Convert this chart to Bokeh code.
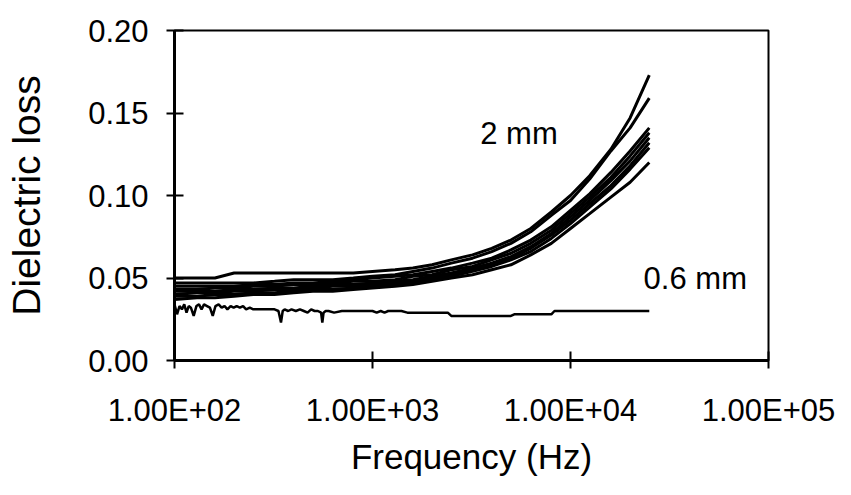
from bokeh.plotting import figure
from bokeh.models import Range1d, FixedTicker, Label, NumeralTickFormatter
from bokeh.embed import file_html
from bokeh.resources import INLINE

# ---- data ----
freq = [100, 130, 160, 200, 250, 320, 400, 500, 630, 800, 1000, 1300, 1600,
        2000, 2500, 3200, 4000, 5000, 6300, 8000, 10000, 12500, 16000, 20000, 25000]

loss_2mm_a = [0.050, 0.050, 0.050, 0.053, 0.053, 0.053, 0.053, 0.053, 0.053, 0.053, 0.054, 0.055, 0.056,
              0.058, 0.061, 0.064, 0.068, 0.073, 0.080, 0.090, 0.100, 0.112, 0.128, 0.147, 0.173]
loss_2mm_b = [0.047, 0.047, 0.047, 0.047, 0.047, 0.048, 0.049, 0.049, 0.049, 0.050, 0.051, 0.052, 0.054,
              0.056, 0.059, 0.062, 0.066, 0.071, 0.078, 0.088, 0.097, 0.110, 0.127, 0.141, 0.159]
loss_2mm_c = [0.045, 0.045, 0.045, 0.045, 0.046, 0.046, 0.047, 0.047, 0.048, 0.049, 0.050, 0.051, 0.052,
              0.054, 0.056, 0.059, 0.062, 0.067, 0.073, 0.081, 0.091, 0.101, 0.114, 0.127, 0.141]
loss_2mm_d = [0.043, 0.043, 0.044, 0.044, 0.045, 0.045, 0.046, 0.046, 0.047, 0.048, 0.048, 0.049, 0.051,
              0.052, 0.055, 0.057, 0.061, 0.065, 0.071, 0.079, 0.089, 0.099, 0.111, 0.124, 0.138]
loss_2mm_e = [0.042, 0.042, 0.042, 0.043, 0.043, 0.044, 0.044, 0.045, 0.046, 0.046, 0.047, 0.048, 0.049,
              0.051, 0.053, 0.056, 0.059, 0.063, 0.069, 0.077, 0.087, 0.097, 0.109, 0.121, 0.135]
loss_2mm_f = [0.040, 0.041, 0.041, 0.042, 0.042, 0.043, 0.043, 0.044, 0.045, 0.045, 0.046, 0.047, 0.048,
              0.050, 0.052, 0.055, 0.058, 0.062, 0.068, 0.076, 0.085, 0.095, 0.106, 0.118, 0.132]
loss_2mm_g = [0.039, 0.039, 0.040, 0.040, 0.041, 0.041, 0.042, 0.043, 0.043, 0.044, 0.045, 0.046, 0.047,
              0.049, 0.051, 0.054, 0.057, 0.061, 0.066, 0.074, 0.083, 0.093, 0.104, 0.116, 0.129]
loss_2mm_h = [0.037, 0.038, 0.038, 0.039, 0.040, 0.040, 0.041, 0.042, 0.042, 0.043, 0.044, 0.045, 0.046,
              0.048, 0.050, 0.052, 0.055, 0.058, 0.064, 0.071, 0.080, 0.089, 0.099, 0.108, 0.120]

freq_06 = [100, 103, 106, 109, 112, 115, 118, 121, 125, 129,
           133, 137, 141, 146, 151, 156, 161, 167, 173, 179,
           185, 192, 199, 206, 214, 222, 230, 240, 250, 262,
           275, 290, 305, 320, 335, 345, 352, 360, 375, 390,
           410, 430, 450, 470, 490, 510, 530, 550, 558, 566,
           580, 600, 640, 700, 800, 900, 1000, 1050, 1100, 1150,
           1200, 1400, 1500, 2000, 2400, 2500, 3000, 4000, 5000, 5200,
           8000, 8300, 12000, 25000]
loss_06 = [0.034, 0.028, 0.033, 0.031, 0.034, 0.029, 0.033, 0.032, 0.027, 0.033,
           0.034, 0.031, 0.034, 0.033, 0.032, 0.027, 0.033, 0.034, 0.032, 0.033,
           0.031, 0.033, 0.032, 0.033, 0.032, 0.033, 0.031, 0.032, 0.031, 0.031,
           0.031, 0.031, 0.031, 0.031, 0.030, 0.023, 0.030, 0.031, 0.030, 0.031,
           0.030, 0.031, 0.030, 0.029, 0.031, 0.030, 0.030, 0.029, 0.023, 0.029,
           0.030, 0.030, 0.029, 0.030, 0.030, 0.030, 0.030, 0.029, 0.030, 0.029,
           0.030, 0.030, 0.029, 0.029, 0.029, 0.027, 0.027, 0.027, 0.027, 0.028,
           0.028, 0.030, 0.030, 0.030]

curves_2mm = [loss_2mm_a, loss_2mm_b, loss_2mm_c, loss_2mm_d,
              loss_2mm_e, loss_2mm_f, loss_2mm_g, loss_2mm_h]

x_ticks = [100, 1000, 10000, 100000]
x_tick_labels = ["1.00E+02", "1.00E+03", "1.00E+04", "1.00E+05"]
y_ticks = [0.0, 0.05, 0.10, 0.15, 0.20]

label_2mm = ("2 mm", 3500, 0.1375)
label_06 = ("0.6 mm", 23400, 0.0496)

FONT = "Liberation Sans"

p = figure(width=851, height=495, x_axis_type="log",
           x_range=Range1d(100, 100000), y_range=Range1d(0, 0.2),
           output_backend="svg", toolbar_location=None,
           min_border_left=174, min_border_right=83,
           min_border_top=30, min_border_bottom=135)

p.background_fill_color = "white"
p.border_fill_color = "white"
p.outline_line_color = "black"
p.outline_line_width = 2
p.xgrid.grid_line_color = None
p.ygrid.grid_line_color = None

for ys in curves_2mm:
    p.line(freq, ys, line_color="black", line_width=3)
p.line(freq_06, loss_06, line_color="black", line_width=2.5)

# axes
for ax in (p.xaxis[0], p.yaxis[0]):
    ax.axis_line_color = "black"
    ax.axis_line_width = 3
    ax.major_tick_line_color = "black"
    ax.major_tick_line_width = 2
    ax.major_tick_in = 9
    ax.major_tick_out = 8
    ax.minor_tick_line_color = None
    ax.major_label_text_font = FONT
    ax.major_label_text_font_size = "31px"
    ax.major_label_text_color = "black"
    ax.axis_label_text_font = FONT
    ax.axis_label_text_font_style = "normal"
    ax.axis_label_text_color = "black"

p.xaxis.ticker = FixedTicker(ticks=x_ticks)
p.xaxis.major_label_overrides = {t: l for t, l in zip(x_ticks, x_tick_labels)}
p.xaxis.major_label_standoff = 24
p.xaxis.axis_label = "Frequency (Hz)"
p.xaxis.axis_label_text_font_size = "35px"
p.xaxis.axis_label_standoff = 6

p.yaxis.ticker = FixedTicker(ticks=y_ticks)
p.yaxis.formatter = NumeralTickFormatter(format="0.00")
p.yaxis.major_label_standoff = 18
p.yaxis.axis_label = "Dielectric loss"
p.yaxis.axis_label_text_font_size = "39px"
p.yaxis.axis_label_standoff = 37

for txt, xx, yy in (label_2mm, label_06):
    p.add_layout(Label(x=xx, y=yy, text=txt, text_font=FONT,
                       text_font_size="31px", text_color="black",
                       text_align="left", text_baseline="alphabetic"))

open("out.html", "w").write(file_html(p, INLINE))
